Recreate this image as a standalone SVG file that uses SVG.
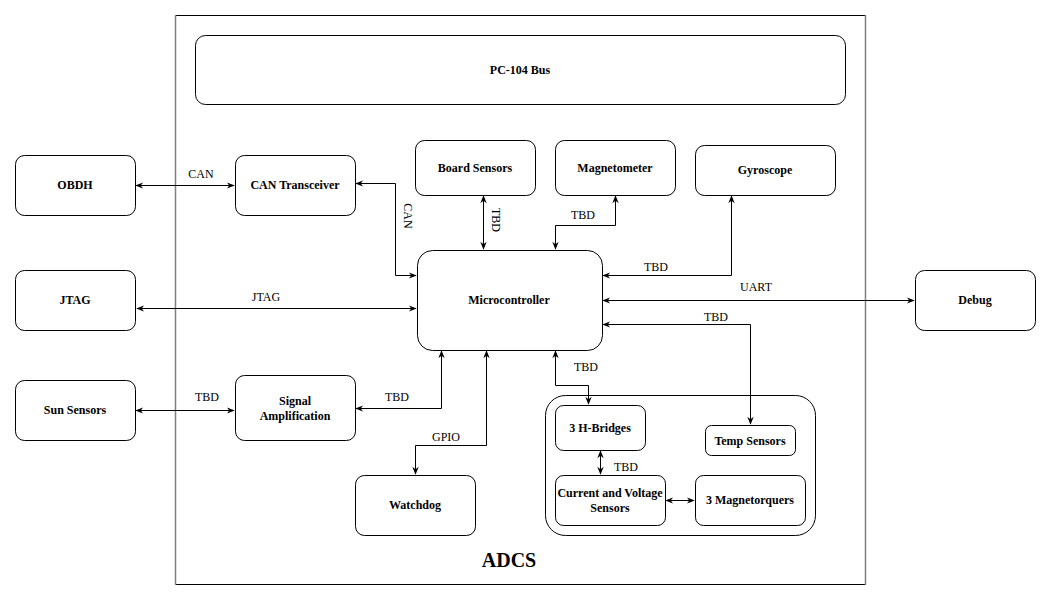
<svg xmlns="http://www.w3.org/2000/svg" width="1051" height="601" viewBox="0 0 1051 601">
<defs>
<marker id="ar" viewBox="0 0 10 10" refX="9" refY="5" markerWidth="8" markerHeight="8" markerUnits="userSpaceOnUse" orient="auto-start-reverse">
<path d="M0,1 L10,5 L0,9 L3,5 Z" fill="#000"/>
</marker>
</defs>
<style>
.n{fill:#fff;stroke:#000;stroke-width:1}
.t{font-family:'Liberation Serif','DejaVu Serif',serif;font-size:12px;font-weight:bold;text-anchor:middle;fill:#000}
.l{font-family:'Liberation Serif','DejaVu Serif',serif;font-size:12px;text-anchor:middle;fill:#000}
.h{font-family:'Liberation Serif','DejaVu Serif',serif;font-size:20px;font-weight:bold;text-anchor:middle;fill:#000}
.c{fill:none;stroke:#000;stroke-width:1;marker-start:url(#ar);marker-end:url(#ar)}
</style>
<rect width="1051" height="601" fill="#fff"/>
<g id="adcs-frame">
<line x1="175" y1="15.5" x2="866" y2="15.5" stroke="#000" stroke-width="1"/>
<line x1="175" y1="584.5" x2="866" y2="584.5" stroke="#000" stroke-width="1"/>
<line x1="175.5" y1="15" x2="175.5" y2="585" stroke="#808080" stroke-width="1.5"/>
<line x1="865.5" y1="15" x2="865.5" y2="585" stroke="#808080" stroke-width="1.5"/>
<text class="h" x="509" y="567">ADCS</text>
</g>
<g id="pc104"><rect class="n" x="195.5" y="35.5" width="650" height="69" rx="10"/><text class="t" x="520" y="74">PC-104 Bus</text></g>
<g id="obdh"><rect class="n" x="15.5" y="155.5" width="120" height="60" rx="9"/><text class="t" x="75" y="189">OBDH</text></g>
<g id="jtag"><rect class="n" x="15.5" y="270.5" width="120" height="60" rx="9"/><text class="t" x="75" y="304">JTAG</text></g>
<g id="sun"><rect class="n" x="15.5" y="380.5" width="120" height="60" rx="9"/><text class="t" x="75" y="414">Sun Sensors</text></g>
<g id="cantx"><rect class="n" x="235.5" y="155.5" width="120" height="60" rx="9"/><text class="t" x="295" y="189">CAN Transceiver</text></g>
<g id="sigamp"><rect class="n" x="235.5" y="375.5" width="120" height="65" rx="9"/><text class="t" x="295" y="405">Signal</text><text class="t" x="295" y="420">Amplification</text></g>
<g id="board"><rect class="n" x="415.5" y="140.5" width="120" height="55" rx="9"/><text class="t" x="475" y="172">Board Sensors</text></g>
<g id="mag"><rect class="n" x="555.5" y="140.5" width="120" height="55" rx="9"/><text class="t" x="615" y="172">Magnetometer</text></g>
<g id="gyro"><rect class="n" x="695.5" y="145.5" width="140" height="50" rx="9"/><text class="t" x="765" y="174">Gyroscope</text></g>
<g id="mcu"><rect class="n" x="417.5" y="250.5" width="185" height="100" rx="15"/><text class="t" x="509" y="304">Microcontroller</text></g>
<g id="debug"><rect class="n" x="915.5" y="270.5" width="120" height="60" rx="9"/><text class="t" x="975" y="304">Debug</text></g>
<g id="watchdog"><rect class="n" x="355.5" y="475.5" width="120" height="60" rx="9"/><text class="t" x="415" y="509">Watchdog</text></g>
<g id="actuators"><rect class="n" x="545.5" y="395.5" width="270" height="140" rx="20"/></g>
<g id="hbridges"><rect class="n" x="555.5" y="405.5" width="90" height="45" rx="8"/><text class="t" x="600" y="432">3 H-Bridges</text></g>
<g id="temp"><rect class="n" x="705.5" y="425.5" width="90" height="30" rx="6"/><text class="t" x="750" y="445">Temp Sensors</text></g>
<g id="cvsens"><rect class="n" x="555.5" y="475.5" width="110" height="50" rx="8"/><text class="t" x="610" y="497">Current and Voltage</text><text class="t" x="610" y="512">Sensors</text></g>
<g id="magtorq"><rect class="n" x="695.5" y="475.5" width="110" height="50" rx="8"/><text class="t" x="750" y="504">3 Magnetorquers</text></g>
<g id="connectors">
<path class="c" d="M136,185.5 H234"/>
<text class="l" x="201" y="178">CAN</text>
<path class="c" d="M356,183.5 H395.5 V275.5 H416"/>
<text class="l" transform="translate(404,216) rotate(90)">CAN</text>
<path class="c" d="M137,308.5 H416"/>
<text class="l" x="266" y="301">JTAG</text>
<path class="c" d="M136,410.5 H234"/>
<text class="l" x="207" y="401">TBD</text>
<path class="c" d="M356,408.5 H441.5 V351"/>
<text class="l" x="397" y="401">TBD</text>
<path class="c" d="M415.5,474 V445.5 H486.5 V351"/>
<text class="l" x="446" y="441">GPIO</text>
<path class="c" d="M483.5,196 V249"/>
<text class="l" transform="translate(492,220) rotate(90)">TBD</text>
<path class="c" d="M615.5,196 V225.5 H555.5 V249"/>
<text class="l" x="583" y="219">TBD</text>
<path class="c" d="M731.5,196 V275.5 H603"/>
<text class="l" x="656" y="271">TBD</text>
<path class="c" d="M603,300.5 H914"/>
<text class="l" x="756" y="291">UART</text>
<path class="c" d="M603,324.5 H750.5 V424"/>
<text class="l" x="716" y="321">TBD</text>
<path class="c" d="M555.5,351 V385.5 H588.5 V404"/>
<text class="l" x="586" y="371">TBD</text>
<path class="c" d="M600.5,451 V474"/>
<text class="l" x="626" y="471">TBD</text>
<path class="c" d="M666,500.5 H694"/>
</g>
</svg>
